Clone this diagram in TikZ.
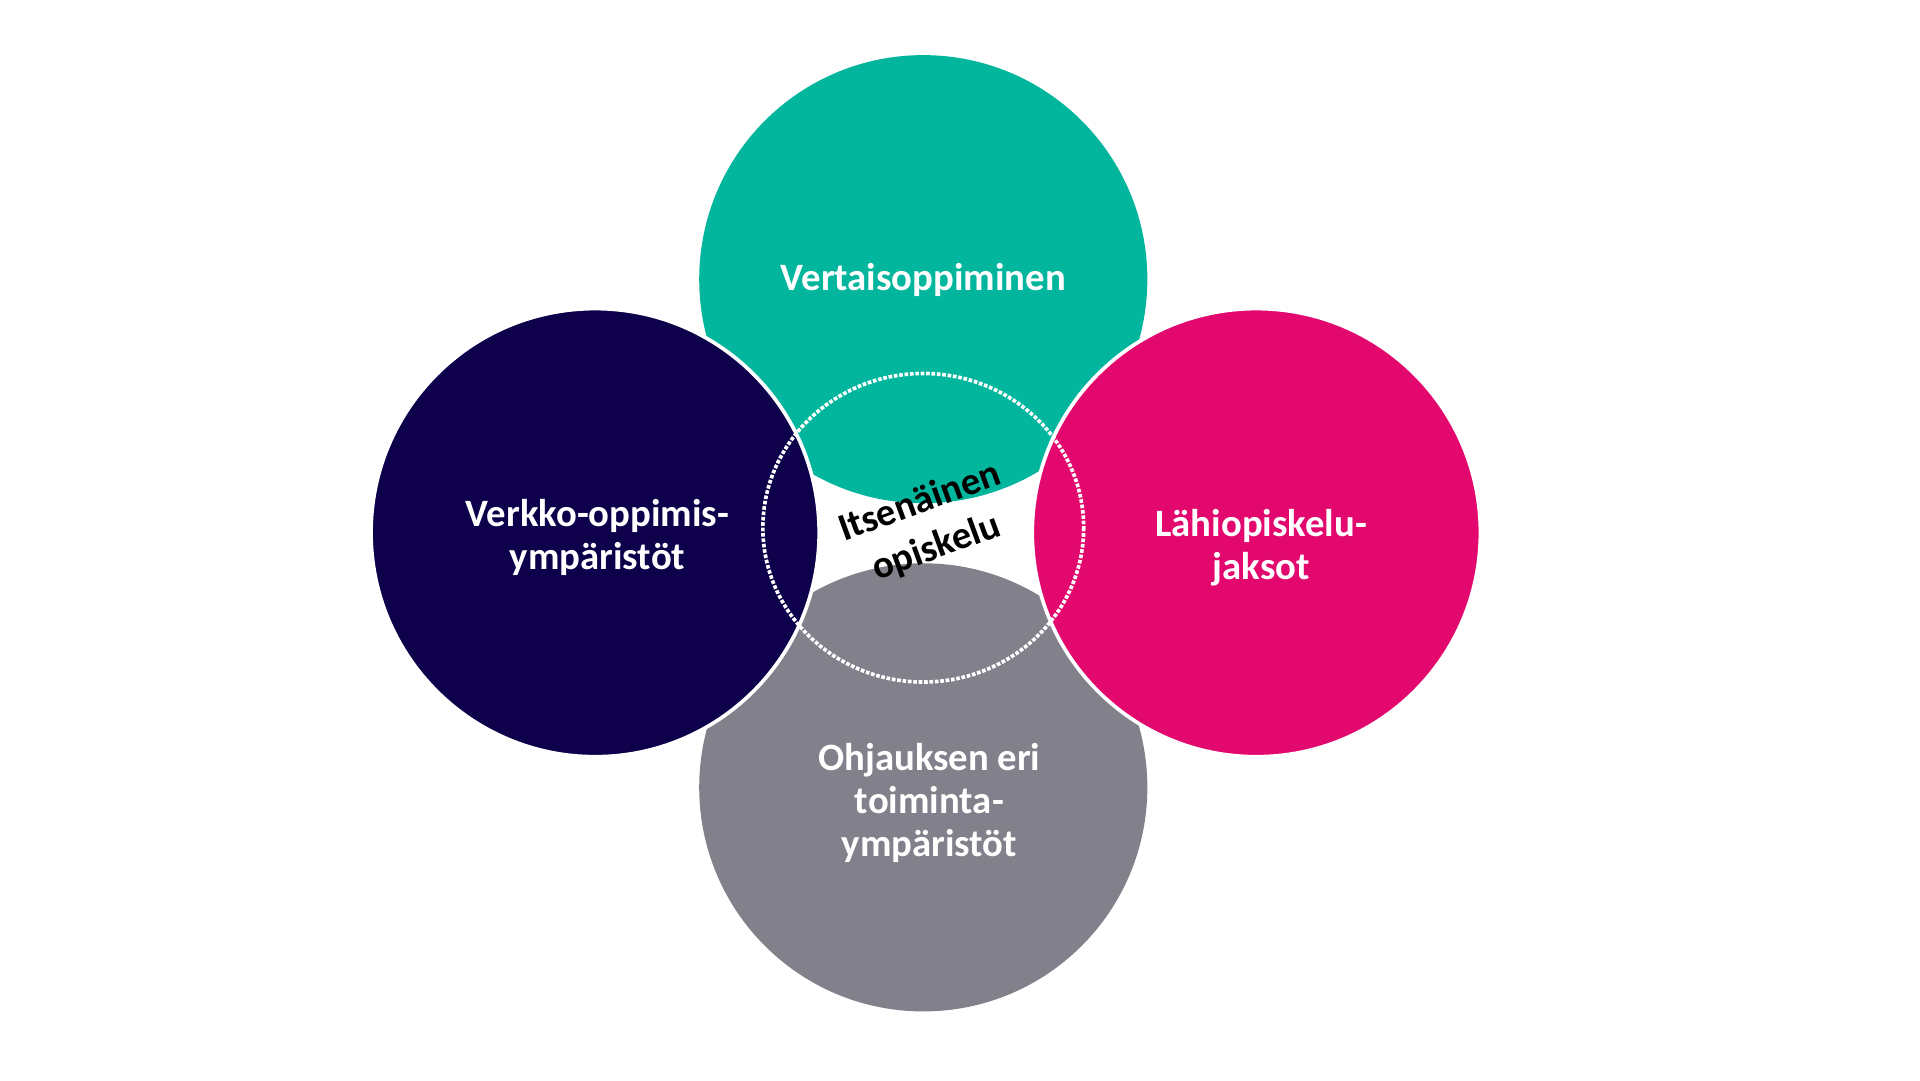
\documentclass[tikz,border=0pt]{standalone}
\usepackage{fontspec}
\setmainfont{Carlito}
\definecolor{teal1}{HTML}{02B59D}
\definecolor{navy1}{HTML}{0E004A}
\definecolor{pink1}{HTML}{E2086E}
\definecolor{gray1}{HTML}{81808B}
\begin{document}
\begin{tikzpicture}[x=0.05cm,y=-0.05cm,
  blob/.style={circle,minimum size=18.3cm,inner sep=0pt,draw=white,line width=0.15cm},
  lbl/.style={text=white,font=\fontsize{45}{50}\selectfont\bfseries,align=center}]
\fill[white] (0,0) rectangle (1568,882);
\useasboundingbox (0,0) rectangle (1568,882);
\node[blob,fill=teal1,draw=none] (t) at (754,228) {};
\node[blob,fill=gray1,draw=none] (b) at (754,643) {};
\node[blob,fill=navy1] (l) at (486,435) {};
\node[blob,fill=pink1] (r) at (1026,435) {};
\node[lbl] (tl) at (754,229) {Vertaisoppiminen};
\node[lbl] (ll) at (488,439) {Verkko-oppimis-\\ympäristöt};
\node[lbl] (rl) at (1030,447) {Lähiopiskelu-\\jaksot};
\node[lbl] (bl) at (759,656) {Ohjauksen eri\\toiminta-\\ympäristöt};
\draw[white,line width=0.15cm,dotted] (754,431) ellipse [x radius=131, y radius=126];
\node[font=\fontsize{45}{56}\selectfont\bfseries,align=center,rotate=20] (c) at (758,429) {Itsenäinen\\opiskelu};
\end{tikzpicture}
\end{document}
